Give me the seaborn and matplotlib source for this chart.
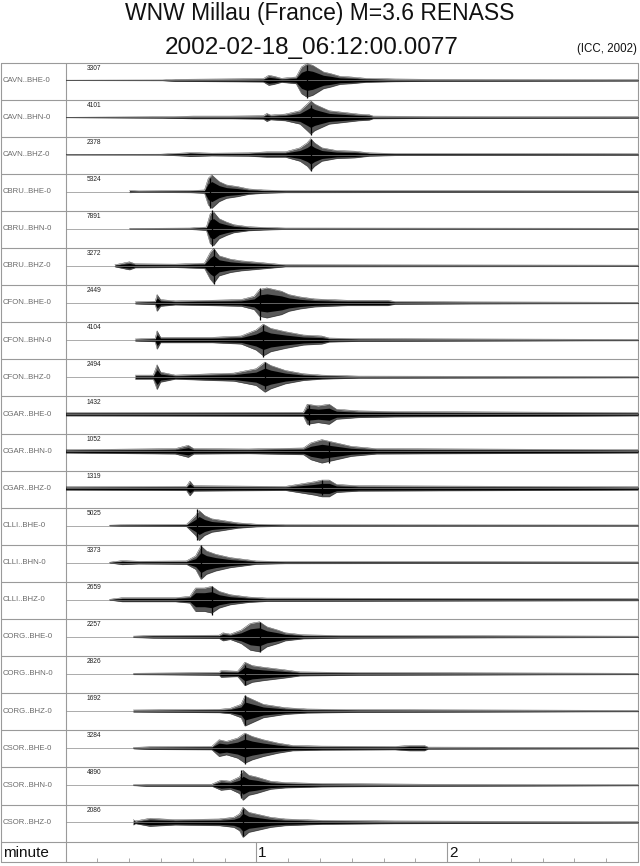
import numpy as np
import pandas as pd
import matplotlib
matplotlib.use("Agg")
import matplotlib.pyplot as plt
import seaborn as sns

# ---------------- data ----------------
TITLE_1 = "WNW Millau (France) M=3.6 RENASS"
TITLE_2 = "2002-02-18_06:12:00.0077"
CREDIT = "(ICC, 2002)"

CHANNELS = ["CAVN..BHE-0", "CAVN..BHN-0", "CAVN..BHZ-0",
            "CBRU..BHE-0", "CBRU..BHN-0", "CBRU..BHZ-0",
            "CFON..BHE-0", "CFON..BHN-0", "CFON..BHZ-0",
            "CGAR..BHE-0", "CGAR..BHN-0", "CGAR..BHZ-0",
            "CLLI..BHE-0", "CLLI..BHN-0", "CLLI..BHZ-0",
            "CORG..BHE-0", "CORG..BHN-0", "CORG..BHZ-0",
            "CSOR..BHE-0", "CSOR..BHN-0", "CSOR..BHZ-0"]
MAX_COUNTS = [3307, 4101, 2378, 5324, 7891, 3272, 2449, 4104, 2494,
              1432, 1052, 1319, 5025, 3373, 2659, 2257, 2826, 1692,
              3284, 4890, 2086]

# envelopes: (time in seconds, relative amplitude in % of trace maximum)
cavn_bhe = [(0, 1), (30.5, 2), (34.5, 6), (48.3, 8), (62.2, 10), (63.9, 30), (65.6, 24),
            (67.9, 12), (72.5, 20), (74.2, 80), (75.4, 95), (76.0, 100), (77.7, 90),
            (79.4, 70), (81.1, 50), (83.4, 40), (86.3, 24), (89.8, 20), (94.4, 12),
            (103.6, 8), (115.1, 6), (180, 4)]
cavn_bhn = [(0, 1), (30.5, 4), (40.3, 8), (51.8, 8), (62.2, 10), (63.3, 24), (64.5, 14),
            (69.1, 20), (73.7, 40), (76.0, 80), (77.1, 100), (78.3, 80), (79.4, 70),
            (82.9, 40), (87.5, 30), (92.1, 20), (95.5, 16), (96.7, 8), (115.1, 6), (180, 4)]
cavn_bhz = [(0, 1), (29.9, 2), (38.0, 10), (39.1, 12), (46.0, 8), (57.6, 10), (63.3, 16),
            (69.1, 16), (73.7, 40), (76.0, 70), (77.1, 95), (78.3, 70), (80.6, 40),
            (85.2, 24), (90.9, 20), (95.5, 10), (103.6, 6), (180, 4)]
cbru_bhe = [(20.1, 6), (23.0, 4), (39.1, 6), (43.7, 10), (44.9, 80), (46.0, 100),
            (48.3, 60), (50.6, 40), (54.1, 30), (57.6, 16), (62.2, 10), (69.1, 6), (180, 4)]
cbru_bhn = [(20.1, 2), (39.1, 4), (44.3, 10), (45.5, 90), (46.6, 100), (48.3, 60),
            (50.6, 40), (52.9, 24), (57.6, 12), (62.2, 8), (69.1, 4), (180, 3)]
cbru_bhz = [(15.5, 6), (20.1, 24), (21.9, 12), (34.5, 10), (43.7, 16), (45.5, 80),
            (46.6, 105), (48.3, 60), (51.8, 40), (55.2, 30), (63.3, 16), (69.1, 6), (180, 4)]
cfon_bhe = [(21.9, 6), (28.2, 10), (28.8, 50), (29.9, 20), (34.5, 12), (46.0, 16),
            (55.2, 20), (59.3, 40), (61.0, 80), (63.3, 90), (65.6, 80), (67.9, 70),
            (70.2, 50), (73.7, 36), (78.3, 24), (82.9, 20), (88.6, 16), (101.3, 16),
            (103.6, 8), (126.6, 6), (180, 4)]
cfon_bhn = [(21.9, 6), (28.2, 10), (28.8, 55), (29.9, 16), (46.0, 16), (55.2, 24),
            (59.9, 60), (62.2, 95), (64.5, 70), (69.1, 50), (74.8, 30), (80.6, 24),
            (82.9, 12), (92.1, 8), (132.4, 6), (180, 4)]
cfon_bhz = [(21.9, 12), (27.6, 12), (28.8, 74), (29.9, 30), (34.5, 12), (46.0, 20),
            (52.9, 24), (59.9, 50), (62.7, 90), (64.5, 70), (69.1, 40), (74.8, 20),
            (80.6, 12), (92.1, 6), (180, 4)]
cgar_bhe = [(0, 10), (74.8, 12), (76.0, 60), (79.4, 50), (82.9, 60), (85.2, 30),
            (92.1, 20), (103.6, 16), (180, 10)]
cgar_bhn = [(0, 10), (34.5, 16), (38.6, 36), (40.3, 16), (57.6, 14), (74.8, 20),
            (77.1, 50), (80.6, 70), (85.2, 50), (89.8, 30), (97.8, 16), (180, 10)]
cgar_bhz = [(0, 10), (38.0, 12), (39.1, 44), (40.3, 16), (69.1, 12), (78.3, 40),
            (80.6, 50), (82.9, 50), (85.2, 24), (92.1, 16), (180, 10)]
clli_bhe = [(13.8, 2), (17.3, 4), (38.0, 6), (40.9, 60), (42.0, 90), (43.7, 60),
            (46.0, 40), (49.5, 30), (54.1, 16), (59.9, 8), (69.1, 4), (180, 3)]
clli_bhn = [(13.8, 2), (17.8, 12), (23.0, 8), (38.0, 10), (40.9, 40), (42.6, 100),
            (44.3, 70), (47.2, 50), (51.8, 30), (57.6, 16), (59.9, 10), (69.1, 6), (180, 4)]
clli_bhz = [(13.8, 2), (17.8, 12), (34.5, 12), (39.1, 20), (40.9, 70), (43.7, 70),
            (46.0, 80), (48.3, 50), (51.8, 30), (57.6, 16), (63.3, 10), (180, 6)]
corg_bhe = [(21.3, 4), (27.6, 8), (48.3, 10), (49.5, 24), (51.8, 16), (55.2, 40),
            (58.1, 80), (61.0, 90), (63.3, 60), (66.8, 40), (69.1, 24), (74.8, 12),
            (86.3, 8), (180, 4)]
corg_bhn = [(21.3, 4), (48.3, 8), (48.9, 20), (54.1, 16), (55.2, 40), (56.4, 70),
            (58.7, 50), (62.2, 40), (69.1, 24), (73.7, 12), (92.1, 8), (180, 4)]
corg_bhz = [(21.3, 6), (34.5, 8), (48.3, 10), (51.8, 16), (55.2, 40), (56.4, 90),
            (58.7, 70), (62.2, 40), (69.1, 20), (76.0, 12), (92.1, 8), (180, 4)]
csor_bhe = [(21.3, 4), (26.5, 8), (46.0, 10), (48.3, 50), (50.6, 40), (54.1, 60),
            (56.4, 90), (58.7, 70), (62.2, 50), (66.8, 30), (71.4, 16), (80.6, 12),
            (103.6, 10), (108.2, 16), (112.8, 16), (114.0, 6), (180, 4)]
csor_bhn = [(21.3, 2), (25.3, 6), (46.0, 6), (48.9, 30), (51.8, 24), (54.7, 50),
            (55.8, 90), (57.6, 60), (59.9, 50), (64.5, 24), (69.1, 16), (80.6, 10),
            (112.8, 6), (180, 3)]
csor_bhz = [(21.3, 16), (22.0, 8), (26.5, 24), (34.5, 16), (48.3, 20), (52.9, 30),
            (54.7, 50), (55.8, 90), (57.6, 60), (59.9, 50), (64.5, 30), (69.1, 20),
            (80.6, 12), (103.6, 8), (180, 4)]

ENVELOPES = [cavn_bhe, cavn_bhn, cavn_bhz, cbru_bhe, cbru_bhn, cbru_bhz,
             cfon_bhe, cfon_bhn, cfon_bhz, cgar_bhe, cgar_bhn, cgar_bhz,
             clli_bhe, clli_bhn, clli_bhz, corg_bhe, corg_bhn, corg_bhz,
             csor_bhe, csor_bhn, csor_bhz]

# largest single swing of each trace: time (s), upward %, downward %
PEAK_TIME = [76.0, 77.1, 77.1, 45.5, 46.0, 46.6, 61.0, 62.2, 62.7, 76.5, 82.9, 80.6,
             41.4, 42.6, 46.0, 61.0, 56.4, 56.4, 56.4, 55.2, 55.8]
PEAK_UP = [94, 74, 90, 84, 110, 98, 92, 90, 90, 54, 56, 50,
           96, 106, 80, 88, 56, 94, 86, 90, 80]
PEAK_DOWN = [106, 106, 100, 100, 106, 110, 104, 100, 70, 66, 68, 40,
             84, 84, 90, 92, 64, 86, 94, 74, 84]

TIME_SPAN = 180            # seconds shown
MINUTE_TICKS = [1, 2]      # labelled minute marks
MINOR_STEP = 10            # seconds between small ticks

# ---------------- figure ----------------
sns.set_theme(style="white")
plt.rcParams['font.family'] = ['Liberation Sans', 'DejaVu Sans']

W, H = 640, 866
fig = plt.figure(figsize=(W / 100, H / 100), dpi=100)
fig.patch.set_facecolor("white")

TOP, ROW, N = 62.5, 37.1, len(CHANNELS)
ROWS_BOTTOM = TOP + N * ROW
BOTTOM = 862.0
LEFT, DIV, RIGHT = 1.0, 65.5, 638.0
GRID = "#9a9a9a"

bg = fig.add_axes([0, 0, 1, 1])
bg.set_xlim(0, W)
bg.set_ylim(H, 0)
bg.axis("off")

bg.plot([LEFT, RIGHT, RIGHT, LEFT, LEFT], [TOP, TOP, BOTTOM, BOTTOM, TOP],
        color=GRID, lw=0.8)
bg.plot([DIV, DIV], [TOP, BOTTOM], color=GRID, lw=0.8)
for i in range(1, N + 1):
    bg.plot([LEFT, RIGHT], [TOP + i * ROW] * 2, color=GRID, lw=0.8)

bg.text(320, 20, TITLE_1, fontsize=16.5, ha="center", va="baseline", color="#111")
bg.text(312, 54, TITLE_2, fontsize=17.5, ha="center", va="baseline", color="#111")
bg.text(637, 52, CREDIT, fontsize=8.3, ha="right", va="baseline", color="#111")

for i, (name, cnt) in enumerate(zip(CHANNELS, MAX_COUNTS)):
    top = TOP + i * ROW
    bg.text(3, top + 0.48 * ROW, name, fontsize=5.6, color="#6a6a6a",
            ha="left", va="center")
    bg.text(87, top + 5.6, str(cnt), fontsize=4.8, color="#222",
            ha="left", va="center")

# traces
ax = fig.add_axes([DIV / W, 1 - ROWS_BOTTOM / H, (RIGHT - DIV) / W, (ROWS_BOTTOM - TOP) / H])
ax.patch.set_alpha(0)
SCALE = 0.0045   # rows per % amplitude
BASE = 0.48

rows = []
for i, env in enumerate(ENVELOPES):
    t = np.array([p[0] for p in env], dtype=float)
    a = np.array([p[1] for p in env], dtype=float)
    yb = i + BASE
    ax.hlines(yb, 0, TIME_SPAN, color="#8a8a8a", lw=0.5)
    # outer swing range (dark grey) and dense black core
    ax.fill_between(t, yb - a * SCALE, yb + a * SCALE, color="#303030", lw=0, alpha=0.8)
    ax.fill_between(t, yb - a * SCALE * 0.6, yb + a * SCALE * 0.6, color="black", lw=0)
    ax.vlines(PEAK_TIME[i], yb - PEAK_UP[i] * SCALE, yb + PEAK_DOWN[i] * SCALE,
              color="black", lw=0.9)
    for side, sgn in (("up", 1), ("dn", -1)):
        for tt, aa in zip(t, a):
            rows.append({"t": tt, "y": yb + sgn * aa * SCALE, "key": f"{i}-{side}"})
df = pd.DataFrame(rows)
sns.lineplot(data=df, x="t", y="y", units="key", estimator=None, sort=False,
             color="#333333", lw=0.3, ax=ax, legend=False)
ax.set_xlim(0, TIME_SPAN)
ax.set_ylim(N, 0)
ax.axis("off")

# minute axis row
mx = fig.add_axes([DIV / W, 1 - BOTTOM / H, (RIGHT - DIV) / W, (BOTTOM - ROWS_BOTTOM) / H])
mx.patch.set_alpha(0)
mx.set_xlim(0, TIME_SPAN)
mx.set_ylim(0, 1)
for s in mx.spines.values():
    s.set_visible(False)
mx.set_xticks(np.arange(MINOR_STEP, TIME_SPAN, MINOR_STEP))
mx.set_xticklabels([])
mx.set_yticks([])
mx.tick_params(axis="x", direction="in", length=3, width=0.6, color=GRID, bottom=True)
for m in MINUTE_TICKS:
    mx.axvline(m * 60, color=GRID, lw=0.8)
    mx.text(m * 60 + 0.6, 0.45, str(m), fontsize=11, ha="left", va="center", color="#111")
bg.text(3, (ROWS_BOTTOM + BOTTOM) / 2 + 1, "minute", fontsize=11, ha="left",
        va="center", color="#111")

fig.savefig("out.png", dpi=100, facecolor="white")
